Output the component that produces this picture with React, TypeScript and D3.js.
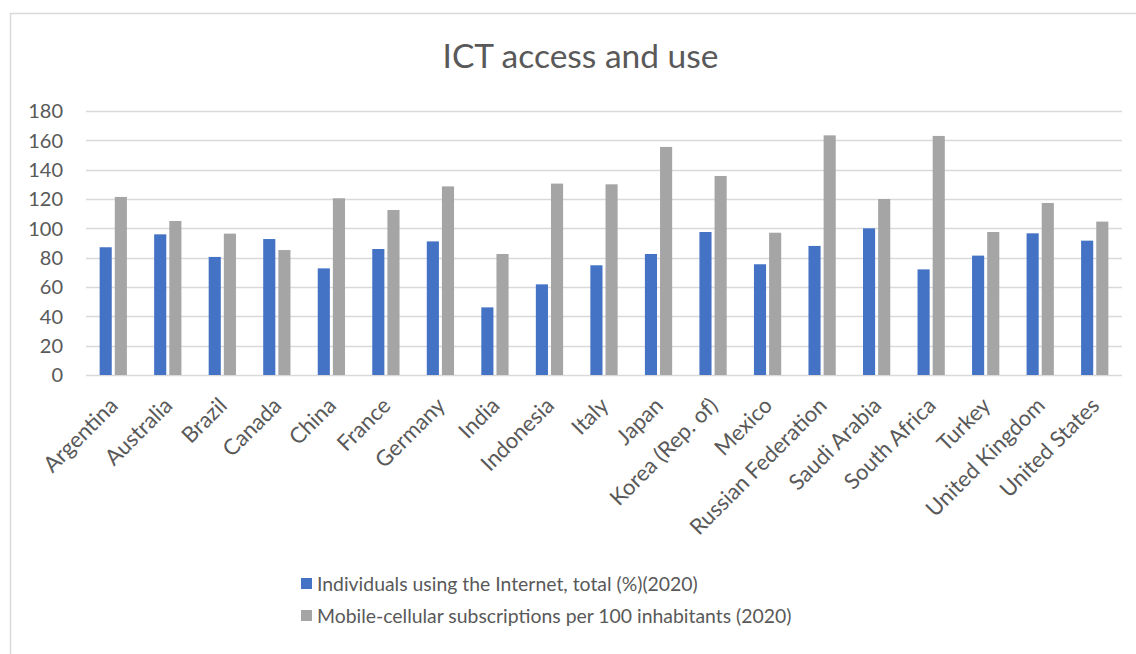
import React from "react";
import * as d3 from "d3";

const categories = [
  "Argentina", "Australia", "Brazil", "Canada", "China", "France", "Germany", "India",
  "Indonesia", "Italy", "Japan", "Korea (Rep. of)", "Mexico", "Russian Federation",
  "Saudi Arabia", "South Africa", "Turkey", "United Kingdom", "United States",
];
const internetUsers = [87.1, 95.9, 80.5, 92.7, 72.7, 85.9, 91.1, 46.1, 61.8, 74.8, 82.5, 97.5, 75.5, 88.0, 100.0, 72.0, 81.4, 96.6, 91.6];
const mobileSubs = [121.4, 105.0, 96.4, 85.2, 120.5, 112.5, 128.6, 82.5, 130.5, 130.0, 155.5, 135.7, 97.0, 163.4, 120.0, 163.0, 97.5, 117.3, 104.6];
const yTicks = [0, 20, 40, 60, 80, 100, 120, 140, 160, 180];
const seriesNames = [
  "Individuals using the Internet, total (%)(2020)",
  "Mobile-cellular subscriptions per 100 inhabitants (2020)",
];
const seriesColors = ["#4472C4", "#A5A5A5"];
const title = "ICT access and use";

const W = 1136;
const H = 654;
const FONT = "Lato, 'Open Sans', sans-serif";
const TXT = "#595959";

export default function App() {
  const x = d3.scaleBand<string>().domain(categories).range([86, 1122]).paddingInner(0.5).paddingOuter(0.25);
  const xs = d3.scaleBand<number>().domain([0, 1]).range([0, x.bandwidth()]).paddingInner(0.2);
  const y = d3.scaleLinear().domain([0, 180]).range([375, 111]);
  const series = [internetUsers, mobileSubs];

  return (
    <svg width={W} height={H} style={{ position: "absolute", left: 0, top: 0, background: "#fff" }} fontFamily={FONT}>
      <rect x={0} y={0} width={W} height={H} fill="#fff" />
      <path d={`M10.5,${H} V13.5 H${W}`} fill="none" stroke="#D9D9D9" strokeWidth={1.5} />
      <text x={580.5} y={68} textAnchor="middle" fontSize={33.5} fill={TXT}>{title}</text>
      {yTicks.map((t) => (
        <g key={t}>
          <line x1={86} x2={1122} y1={Math.round(y(t)) + 0.5} y2={Math.round(y(t)) + 0.5} stroke="#D9D9D9" strokeWidth={1.5} />
          <text x={63} y={y(t)} dy="0.36em" textAnchor="end" fontSize={20} fill={TXT}>{t}</text>
        </g>
      ))}
      {categories.map((c, i) => (
        <g key={c} transform={`translate(${x(c)},0)`}>
          {series.map((s, k) => (
            <rect key={k} x={xs(k)} width={xs.bandwidth()} y={y(s[i])} height={y(0) - y(s[i])} fill={seriesColors[k]} />
          ))}
        </g>
      ))}
      {categories.map((c) => {
        const cx = (x(c) as number) + x.bandwidth() / 2;
        return (
          <text key={c} transform={`translate(${cx + 6},407) rotate(-45)`} textAnchor="end" fontSize={22} fill={TXT}>{c}</text>
        );
      })}
      {seriesNames.map((n, k) => (
        <g key={n} transform={`translate(301,${578 + k * 32})`}>
          <rect x={0} y={0} width={11} height={11} fill={seriesColors[k]} />
          <text x={16} y={12.5} fontSize={19.4} fill={TXT}>{n}</text>
        </g>
      ))}
    </svg>
  );
}
